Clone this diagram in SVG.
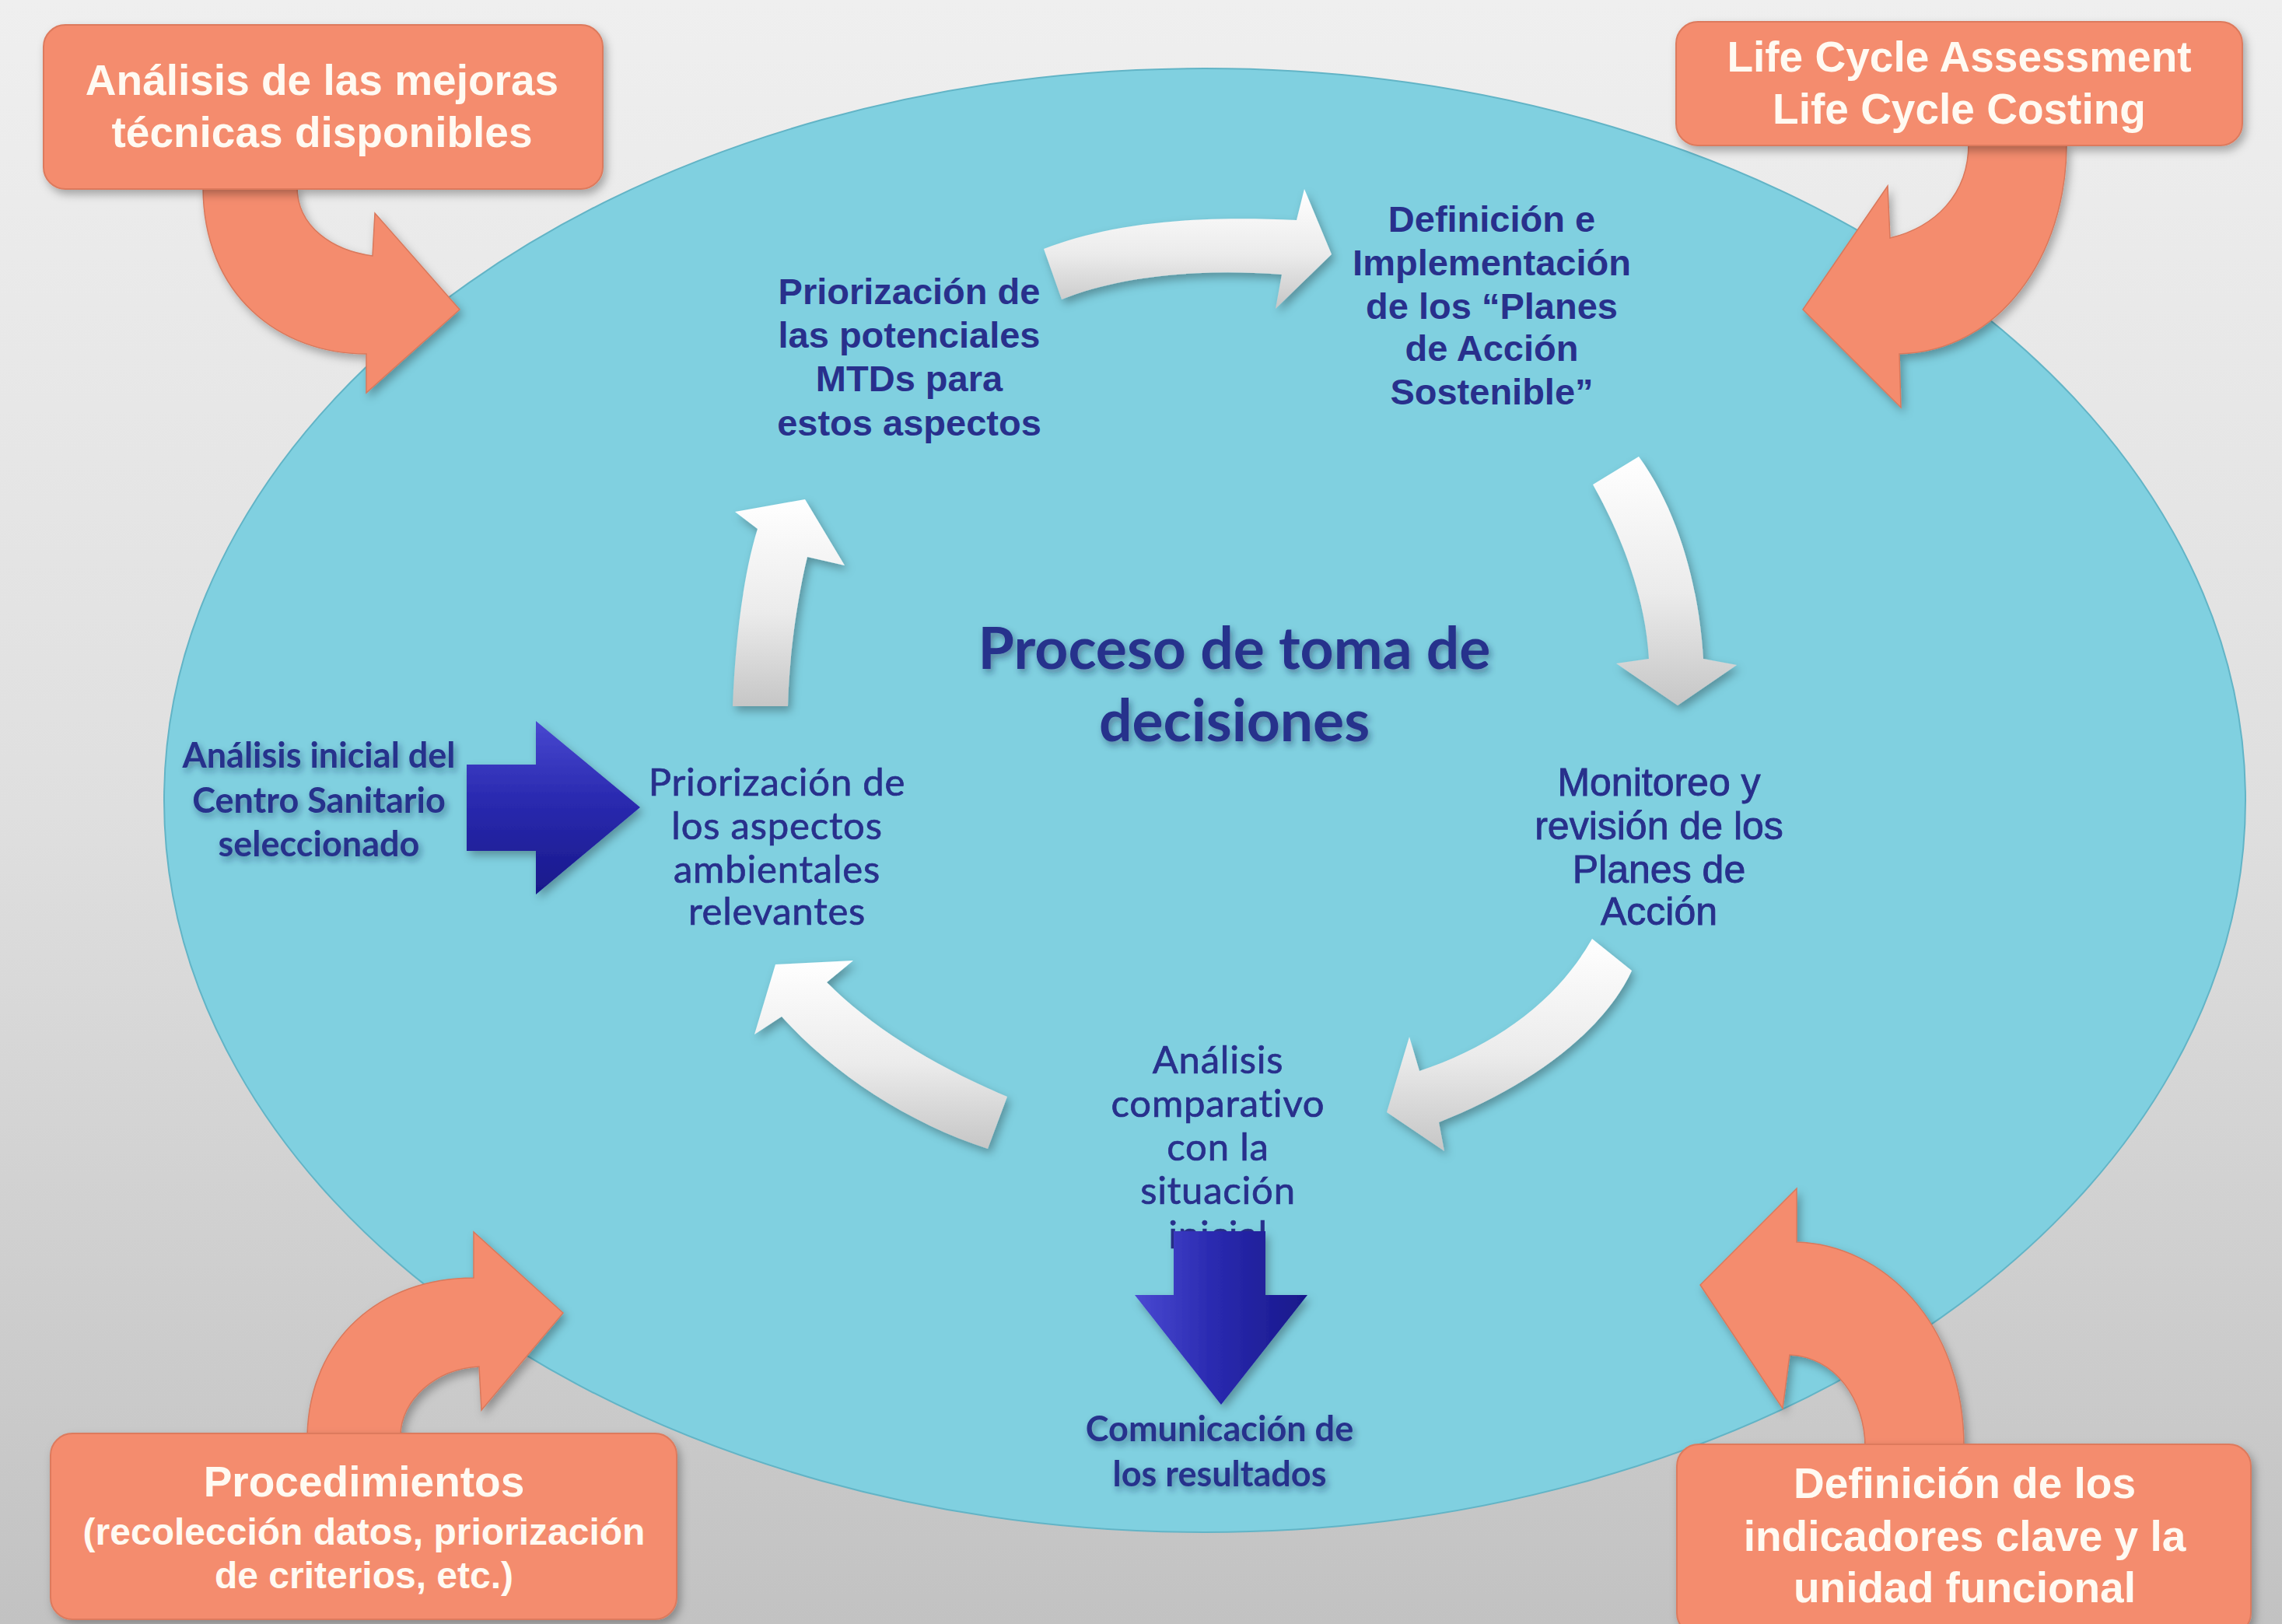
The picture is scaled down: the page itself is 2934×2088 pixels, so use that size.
<svg xmlns="http://www.w3.org/2000/svg" width="2934" height="2088" viewBox="0 0 2934 2088">
<defs>
  <linearGradient id="bg" x1="0" y1="0" x2="0" y2="1">
    <stop offset="0" stop-color="#efefef"/>
    <stop offset="0.5" stop-color="#dfdfdf"/>
    <stop offset="1" stop-color="#c2c2c2"/>
  </linearGradient>
  <linearGradient id="wgrad" x1="0" y1="0" x2="0" y2="1">
    <stop offset="0" stop-color="#ffffff"/>
    <stop offset="0.55" stop-color="#ebebeb"/>
    <stop offset="1" stop-color="#c6c6c6"/>
  </linearGradient>
  <linearGradient id="bgradH" x1="0" y1="0" x2="0" y2="1">
    <stop offset="0" stop-color="#4848d0"/>
    <stop offset="0.45" stop-color="#2a2ab0"/>
    <stop offset="1" stop-color="#18188a"/>
  </linearGradient>
  <linearGradient id="bgradV" x1="0" y1="0" x2="1" y2="0">
    <stop offset="0" stop-color="#4a4ad2"/>
    <stop offset="0.45" stop-color="#2a2ab0"/>
    <stop offset="1" stop-color="#18188a"/>
  </linearGradient>
  <filter id="sh" x="-20%" y="-20%" width="140%" height="140%">
    <feDropShadow dx="4" dy="6" stdDeviation="6" flood-color="#000" flood-opacity="0.3"/>
  </filter>
  <filter id="tsh" x="-10%" y="-30%" width="120%" height="160%">
    <feDropShadow dx="3" dy="5" stdDeviation="4" flood-color="#1a2050" flood-opacity="0.45"/>
  </filter>
  <style>
    .box { fill: #f48c6e; stroke: #dd7a5d; stroke-width: 2; }
    .oarr { fill: #f48c6e; stroke: #d9785b; stroke-width: 1.5; }
    .warr { fill: url(#wgrad); }
    .wt { font-family: "Liberation Sans", Arial, sans-serif; font-weight: bold; fill: #fffaf2; text-anchor: middle; }
    .nb { font-family: "Liberation Sans", Arial, sans-serif; font-weight: bold; font-size: 47px; fill: #28308c; text-anchor: middle; }
    .nr { font-family: "Liberation Sans", Arial, sans-serif; font-size: 50px; fill: #28308c; stroke: #28308c; stroke-width: 0.9; text-anchor: middle; }
    .cl { font-family: Lato, "Open Sans", sans-serif; font-size: 49px; letter-spacing: 0.8px; fill: #28308c; stroke: #28308c; stroke-width: 0.7; text-anchor: middle; }
    .cb { font-family: Lato, "Open Sans", sans-serif; font-weight: bold; fill: #28308c; text-anchor: middle; }
  </style>
</defs>

<rect x="0" y="0" width="2934" height="2088" fill="url(#bg)"/>

<g id="ellipse">
  <ellipse cx="1549" cy="1029" rx="1338" ry="941" fill="#80d0e0" stroke="#62b4c6" stroke-width="2"/>
</g>

<g id="connectors">
  <path class="oarr" filter="url(#sh)" d="M261,240 C261,380 360,455 471,455 L471,505 L591,398 L482,274 L479,329 C428,322 382,292 382,240 Z"/>
  <path class="oarr" filter="url(#sh)" d="M2531,185 L2657,185 C2657,330 2570,452 2442,455 L2444,524 L2318,398 L2427,239 L2430,306 C2488,292 2531,250 2531,185 Z"/>
  <path class="oarr" filter="url(#sh)" d="M395,1846 C398,1720 490,1643 609,1643 L609,1584 L724,1688 L619,1813 L616,1757 C560,1760 515,1800 515,1846 Z"/>
  <path class="oarr" filter="url(#sh)" d="M2525,1860 C2525,1700 2420,1600 2310,1597 L2310,1528 L2186,1652 L2292,1811 L2301,1742 C2360,1745 2398,1800 2398,1860 Z"/>

  <path class="warr" filter="url(#sh)" d="M1342,320 C1420,290 1520,276 1667,283 L1677,243 L1712,327 L1640,397 L1648,353 C1540,345 1440,355 1365,385 Z"/>
  <path class="warr" filter="url(#sh)" d="M2048,623 C2080,680 2115,760 2120,847 L2078,853 L2157,907 L2233,855 L2190,847 C2185,760 2160,660 2107,587 Z"/>
  <path class="warr" filter="url(#sh)" d="M2047,1207 L2098,1248 C2060,1330 1960,1400 1850,1443 L1857,1480 L1783,1430 L1812,1333 L1825,1377 C1920,1345 2000,1290 2047,1207 Z"/>
  <path class="warr" filter="url(#sh)" d="M1295,1410 L1270,1477 C1170,1445 1070,1380 1005,1307 L970,1330 L997,1240 L1097,1235 L1063,1263 C1120,1320 1200,1370 1295,1410 Z"/>
  <path class="warr" filter="url(#sh)" d="M942,908 C945,830 955,740 974,680 L945,658 L1035,642 L1086,727 L1038,716 C1025,770 1015,840 1013,908 Z"/>
</g>

<g id="box-mtd">
  <rect class="box" filter="url(#sh)" x="56" y="32" width="719" height="211" rx="28"/>
  <text class="wt" font-size="55"><tspan x="414" y="122">Análisis de las mejoras</tspan><tspan x="414" y="189">técnicas disponibles</tspan></text>
</g>

<g id="box-lca">
  <rect class="box" filter="url(#sh)" x="2155" y="28" width="728" height="159" rx="28"/>
  <text class="wt" font-size="55"><tspan x="2519" y="92">Life Cycle Assessment</tspan><tspan x="2519" y="159">Life Cycle Costing</tspan></text>
</g>

<g id="box-proc">
  <rect class="box" filter="url(#sh)" x="65" y="1843" width="805" height="239" rx="28"/>
  <text class="wt"><tspan x="468" y="1924" font-size="55">Procedimientos</tspan><tspan x="468" y="1986" font-size="48">(recolección datos, priorización</tspan><tspan x="468" y="2042" font-size="48">de criterios, etc.)</tspan></text>
</g>

<g id="box-ind">
  <rect class="box" filter="url(#sh)" x="2156" y="1857" width="738" height="245" rx="28"/>
  <text class="wt" font-size="55"><tspan x="2526" y="1926">Definición de los</tspan><tspan x="2526" y="1994">indicadores clave y la</tspan><tspan x="2526" y="2060">unidad funcional</tspan></text>
</g>

<g id="title">
  <text class="cb" font-size="75" filter="url(#tsh)"><tspan x="1587" y="860">Proceso de toma de</tspan><tspan x="1587" y="953">decisiones</tspan></text>
</g>

<g id="node-mtds">
  <text class="nb"><tspan x="1169" y="391">Priorización de</tspan><tspan x="1169" y="447">las potenciales</tspan><tspan x="1169" y="503">MTDs para</tspan><tspan x="1169" y="560">estos aspectos</tspan></text>
</g>

<g id="node-planes">
  <text class="nb"><tspan x="1918" y="298">Definición e</tspan><tspan x="1918" y="354">Implementación</tspan><tspan x="1918" y="410">de los “Planes</tspan><tspan x="1918" y="464">de Acción</tspan><tspan x="1918" y="520">Sostenible”</tspan></text>
</g>

<g id="node-monitoreo">
  <text class="nr"><tspan x="2133" y="1023">Monitoreo y</tspan><tspan x="2133" y="1079">revisión de los</tspan><tspan x="2133" y="1135">Planes de</tspan><tspan x="2133" y="1189">Acción</tspan></text>
</g>

<g id="node-aspectos">
  <text class="cl"><tspan x="999" y="1023">Priorización de</tspan><tspan x="999" y="1079">los aspectos</tspan><tspan x="999" y="1135">ambientales</tspan><tspan x="999" y="1189">relevantes</tspan></text>
</g>

<g id="node-inicial">
  <text class="cb" font-size="45" filter="url(#tsh)"><tspan x="410" y="987">Análisis inicial del</tspan><tspan x="410" y="1045">Centro Sanitario</tspan><tspan x="410" y="1101">seleccionado</tspan></text>
  <path filter="url(#sh)" fill="url(#bgradH)" d="M600,983 L689,983 L689,927 L823,1038 L689,1150 L689,1094 L600,1094 Z"/>
</g>

<g id="node-comparativo">
  <text class="cl"><tspan x="1566" y="1380">Análisis</tspan><tspan x="1566" y="1436">comparativo</tspan><tspan x="1566" y="1492">con la</tspan><tspan x="1566" y="1548">situación</tspan><tspan x="1566" y="1605">inicial</tspan></text>
  <path filter="url(#sh)" fill="url(#bgradV)" d="M1509,1583 L1627,1583 L1627,1665 L1681,1665 L1570,1806 L1459,1665 L1509,1665 Z"/>
</g>

<g id="node-comunicacion">
  <text class="cb" font-size="45" filter="url(#tsh)"><tspan x="1568" y="1853">Comunicación de</tspan><tspan x="1568" y="1911">los resultados</tspan></text>
</g>
</svg>
